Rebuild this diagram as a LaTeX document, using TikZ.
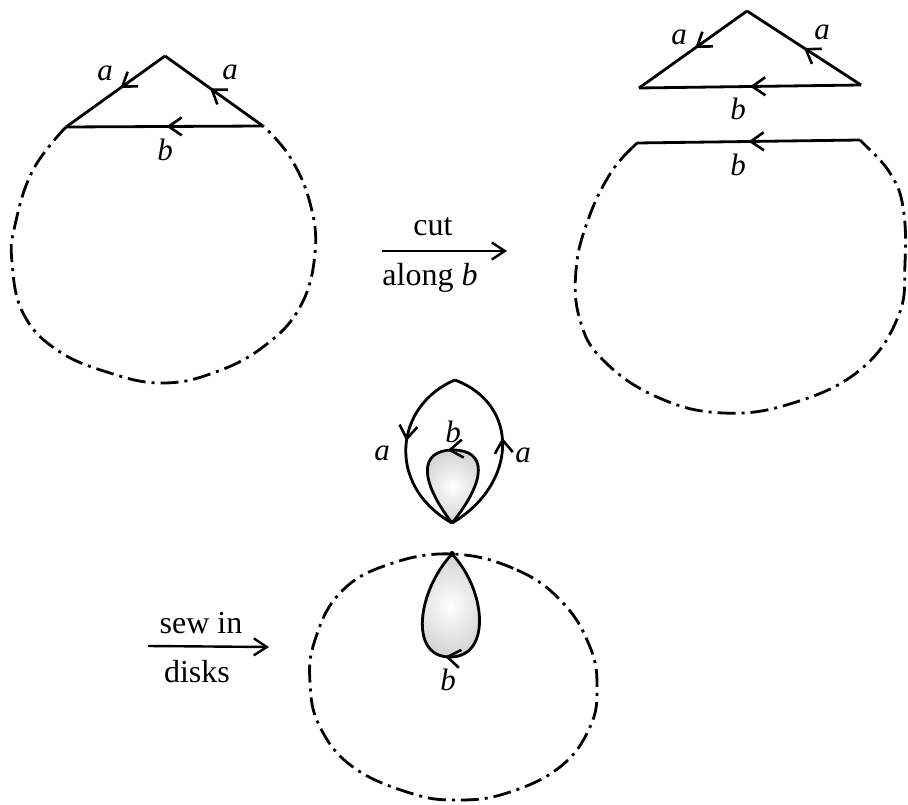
\documentclass[tikz,border=0pt]{standalone}
\usepackage{fontspec}
\setmainfont{Liberation Serif}
\usetikzlibrary{arrows.meta,decorations.markings}
\tikzset{
  edge/.style={line width=2.8pt, line join=miter},
  dashdotline/.style={line width=2.8pt, dash pattern=on 18pt off 6pt on 3pt off 6pt},
  midarrow/.style={decoration={markings, mark=at position #1 with {\arrow{Straight Barb[length=13pt,width=18pt,line width=2.6pt]}}}, postaction={decorate}},
  lbl/.style={font=\fontsize{31}{35}\selectfont\itshape, inner sep=0pt},
  txt/.style={font=\fontsize{32}{36}\selectfont, inner sep=0pt},
  disk/.style={inner color=white, outer color=gray!35},
  maparrow/.style={line width=2.4pt, -{Straight Barb[length=13pt,width=17pt]}}
}
\begin{document}
\begin{tikzpicture}[x=1pt,y=-1pt]
\useasboundingbox (0,0) rectangle (908,805);

% ---------- top-left figure ----------
\coordinate (TLapex) at (165,56);
\coordinate (TLl) at (66,127);
\coordinate (TLr) at (263,126);
\draw[edge, midarrow=0.45] (TLapex) -- (TLl);
\draw[edge, midarrow=0.54] (TLr) -- (TLapex);
\draw[edge, midarrow=0.49] (TLr) -- (TLl);
\draw[dashdotline] plot[smooth, tension=0.7] coordinates {(66,127) (33,170) (15,225) (12,262) (23,313) (57,350) (110,373) (162,383) (213,373) (263,347) (300,307) (315,253) (310,203) (290,157) (263,126)};
\node[lbl] (la1) at (105,73) {a};
\node[lbl] (la2) at (230,72) {a};
\node[lbl] (lb1) at (165,150) {b};

% ---------- cut arrow ----------
\coordinate (c1) at (382,251);
\coordinate (c2) at (507,251);
\draw[maparrow] (c1) -- (c2);
\node[txt] (cut) at (433,227) {cut};
\node[txt] (along) at (430,278) {along \textit{b}};

% ---------- top-right figure ----------
\coordinate (TRapex) at (747,11);
\coordinate (TRl) at (639,88);
\coordinate (TRr) at (861,85);
\draw[edge, midarrow=0.48] (TRapex) -- (TRl);
\draw[edge, midarrow=0.5] (TRr) -- (TRapex);
\draw[edge, midarrow=0.5] (TRr) -- (TRl);
\node[lbl] (ra1) at (679,37) {a};
\node[lbl] (ra2) at (822,32) {a};
\node[lbl] (rb1) at (738,109) {b};

\coordinate (Bl) at (632,148);
\coordinate (Bl2) at (637,143);
\coordinate (Br2) at (860,140);
\coordinate (Br) at (867,147);
\draw[edge] (Bl) -- (Bl2);
\draw[edge] (Br2) -- (Br);
\draw[edge, midarrow=0.5] (Br2) -- (Bl2);
\draw[dashdotline] plot[smooth, tension=0.7] coordinates {(632,148) (610,174) (588,220) (576,270) (580,320) (603,360) (657,397) (723,413) (793,403) (860,370) (898,317) (905,263) (903,207) (890,173) (867,147)};
\node[lbl] (rb2) at (738,165) {b};

% ---------- middle figure ----------
\coordinate (Mtop) at (455,380);
\coordinate (Mbot) at (452,523);
\coordinate (Mdtop) at (453,450);
\shade[disk] (Mbot) .. controls (487,480) and (487,450) .. (Mdtop) .. controls (419,450) and (419,480) .. (Mbot);
\draw[edge, midarrow=0.53] (Mbot) .. controls (487,480) and (487,450) .. (Mdtop) .. controls (419,450) and (419,480) .. (Mbot);
\draw[edge, midarrow=0.45] (Mtop) .. controls (395,405) and (385,485) .. (Mbot);
\draw[edge, midarrow=0.57] (Mbot) .. controls (517,485) and (521,405) .. (Mtop);
\node[lbl] (ma1) at (382,453) {a};
\node[lbl] (ma2) at (523,455) {a};
\node[lbl] (mb) at (453,432) {b};

% ---------- sew in arrow ----------
\coordinate (s1) at (148,646);
\coordinate (s2) at (269,647);
\draw[maparrow] (s1) -- (s2);
\node[txt] (sew) at (201,623) {sew in};
\node[txt] (disks) at (197,672) {disks};

% ---------- bottom figure ----------
\coordinate (Btop) at (452,554);
\coordinate (Bdbot) at (450,657);
\draw[dashdotline] plot[smooth cycle, tension=0.7] coordinates {(452,554) (517,570) (563,603) (590,647) (597,687) (590,727) (560,767) (507,793) (457,800) (410,793) (353,767) (320,727) (310,683) (315,640) (340,593) (387,565)};
\shade[disk] (Btop) .. controls (486,590) and (492,657) .. (Bdbot) .. controls (408,657) and (418,590) .. (Btop);
\draw[edge, midarrow=0.52] (Btop) .. controls (486,590) and (492,657) .. (Bdbot) .. controls (408,657) and (418,590) .. (Btop);
\fill (Btop) circle (3pt);
\node[lbl] (bb) at (448,680) {b};
\end{tikzpicture}
\end{document}
